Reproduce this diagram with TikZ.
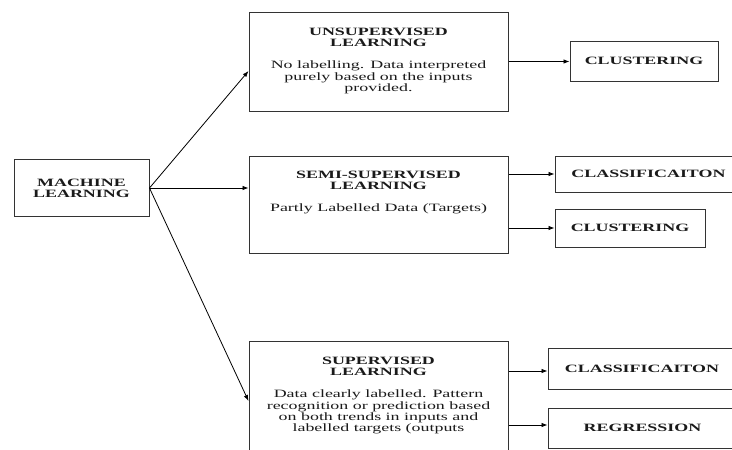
\documentclass[tikz,border=0pt]{standalone}
\usepackage{fontspec}
\setmainfont{Liberation Serif}[FakeStretch=1.6]
\usetikzlibrary{arrows.meta}
\definecolor{boxline}{HTML}{333333}
\definecolor{ink}{HTML}{1A1A1A}
\tikzset{
  box/.style={draw=boxline, line width=1pt, inner sep=0pt, fill=white},
  ttl/.style={font=\fontsize{11.2}{11.3}\selectfont\bfseries, text=ink, align=center},
  body/.style={font=\fontsize{11.2}{11.3}\selectfont, text=ink, align=center, inner sep=0pt, anchor=north},
  arr/.style={draw=black, line width=0.8pt, -{Latex[length=6pt,width=4.5pt]}},
}
\begin{document}
\begin{tikzpicture}[x=1pt,y=-1pt]
\useasboundingbox (0,0) rectangle (732,450);
\clip (0,0) rectangle (732,450);
\fill[white] (0,0) rectangle (732,450);
% main boxes
\node[box, ttl, minimum width=135pt, minimum height=57pt] (ml) at (81.5,188) {MACHINE\\LEARNING};
\node[box, minimum width=259pt, minimum height=99pt] (unsup) at (378.5,61.5) {};
\node[box, minimum width=259pt, minimum height=97pt] (semi) at (378.5,204.5) {};
\node[box, minimum width=259pt, minimum height=120pt] (sup) at (378.5,401) {};
% box texts
\node[body] (unsupt) at ([yshift=-16pt]unsup.north) {\bfseries UNSUPERVISED\\\bfseries LEARNING\\[11pt]No labelling. Data interpreted\\purely based on the inputs\\provided.};
\node[body] (semit) at ([yshift=-15pt]semi.north) {\bfseries SEMI-SUPERVISED\\\bfseries LEARNING\\[11pt]Partly Labelled Data (Targets)};
\node[body] (supt) at ([yshift=-16pt]sup.north) {\bfseries SUPERVISED\\\bfseries LEARNING\\[11pt]Data clearly labelled. Pattern\\recognition or prediction based\\on both trends in inputs and\\labelled targets (outputs};
% output boxes
\node[box, ttl, minimum width=148pt, minimum height=40pt] (clust1) at (644,61) {CLUSTERING};
\node[box, ttl, minimum width=187pt, minimum height=36pt] (c1) at (648.5,174) {CLASSIFICAITON};
\node[box, ttl, minimum width=150pt, minimum height=38pt] (clust2) at (630,228) {CLUSTERING};
\node[box, ttl, minimum width=188pt, minimum height=41pt] (c2) at (642,368.5) {CLASSIFICAITON};
\node[box, ttl, minimum width=189pt, minimum height=40pt] (reg) at (642.5,428) {REGRESSION};
% connectors
\draw[arr] (ml.east) -- ([yshift=-9.5pt]unsup.west);
\draw[arr] (ml.east) -- (ml.east -| semi.west);
\draw[arr] (ml.east) -- (sup.west);
\draw[arr] (unsup.east) -- (unsup.east -| clust1.west);
\draw[arr] (semi.east |- c1.west) -- (c1.west);
\draw[arr] (semi.east |- clust2.west) -- (clust2.west);
\draw[arr] ([yshift=-2.5pt]sup.east |- c2.west) -- ([yshift=-2.5pt]c2.west);
\draw[arr] ([yshift=3pt]sup.east |- reg.west) -- ([yshift=3pt]reg.west);
\end{tikzpicture}
\end{document}
